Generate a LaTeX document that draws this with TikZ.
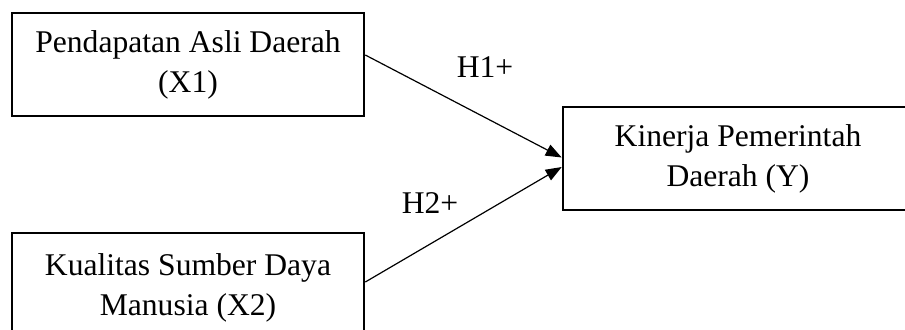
\documentclass[tikz,border=0pt]{standalone}
\usepackage{fontspec}
\setmainfont{Liberation Serif}
\usetikzlibrary{arrows.meta}
\begin{document}
\begin{tikzpicture}[x=0.5pt,y=-0.5pt,
    varbox/.style={draw,line width=1.3pt,align=center,inner sep=0pt,
      font=\fontsize{15.8}{20}\selectfont},
    path/.style={line width=0.6pt,-{Triangle[length=8pt,width=6pt]}},
    hyp/.style={font=\fontsize{15.8}{20}\selectfont}]

  % page size
  \useasboundingbox (0,0) rectangle (905,329);
  \clip (0,0) rectangle (905,329);

  % draw variables
  \node[varbox,minimum width=176pt,minimum height=51.5pt] (pad) at (188,64.5) {Pendapatan Asli Daerah\\(X1)};
  \node[varbox,minimum width=176pt,minimum height=55pt] (sdm) at (188,288) {Kualitas Sumber Daya\\Manusia (X2)};
  \node[varbox,minimum width=175pt,minimum height=51.5pt] (kin) at (738,158.5) {Kinerja Pemerintah\\Daerah (Y)};

  % draw hypotheses
  \draw[path] ([yshift=4.75pt]pad.east) -- ([yshift=0.5pt]kin.west);
  \draw[path] ([yshift=3pt]sdm.east) -- ([yshift=-4.25pt]kin.west);

  \node[hyp] (h1) at (485,67) {H1+};
  \node[hyp] (h2) at (430,203) {H2+};
\end{tikzpicture}
\end{document}
